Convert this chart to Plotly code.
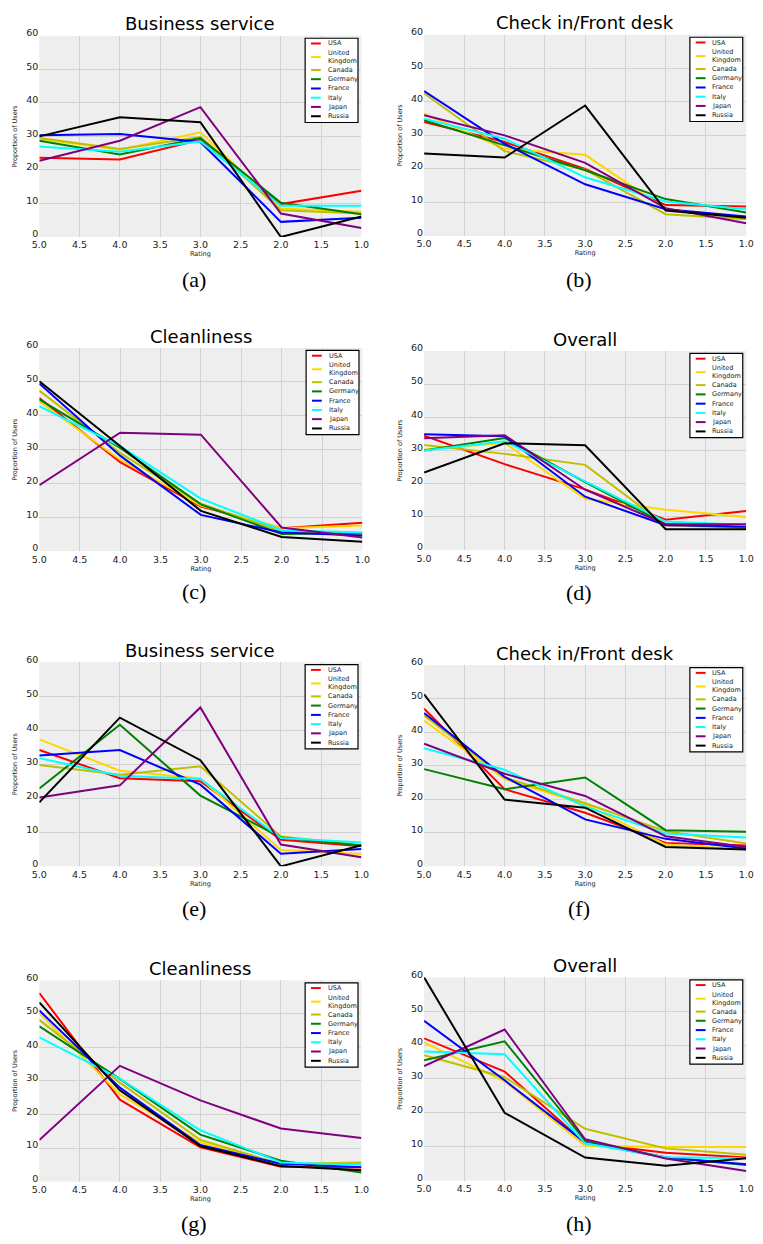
import plotly.graph_objects as go

# ---------------------------------------------------------------- data
ratings = [5, 4, 3, 2, 1]
countries = ["USA", "United Kingdom", "Canada", "Germany", "France", "Italy", "Japan", "Russia"]
legend_labels = ["USA", "United<br>Kingdom", "Canada", "Germany", "France", "Italy", "Japan", "Russia"]
colors = ["#ff0000", "#ffd700", "#bfbf00", "#008000", "#0000ff", "#00ffff", "#800080", "#000000"]

panel_titles = ["Business service", "Check in/Front desk", "Cleanliness", "Overall",
                "Business service", "Check in/Front desk", "Cleanliness", "Overall"]
panel_captions = ["(a)", "(b)", "(c)", "(d)", "(e)", "(f)", "(g)", "(h)"]

# one row per country (same order as `countries`), one column per rating 5..1
business_a = [
    [23.6, 23.1, 29.0, 9.8, 13.8],
    [29.2, 26.0, 31.2, 8.5, 7.5],
    [29.5, 26.2, 29.8, 8.0, 7.0],
    [28.7, 24.6, 29.5, 10.2, 6.8],
    [30.3, 30.7, 28.3, 4.5, 5.7],
    [27.0, 25.4, 28.5, 9.3, 9.3],
    [22.7, 28.7, 38.7, 7.0, 2.7],
    [30.0, 35.7, 34.2, 0.0, 6.1],
]
checkin_b = [
    [34.0, 28.0, 20.0, 9.2, 8.8],
    [36.5, 26.0, 24.2, 8.0, 5.5],
    [42.5, 25.3, 19.8, 6.5, 5.0],
    [34.5, 27.0, 19.6, 11.0, 7.0],
    [43.2, 27.5, 15.4, 8.0, 5.8],
    [35.0, 29.0, 17.5, 10.3, 8.0],
    [36.0, 30.0, 21.8, 8.3, 3.8],
    [24.6, 23.4, 38.9, 7.6, 5.4],
]
cleanliness_c = [
    [45.2, 26.3, 13.2, 6.8, 8.4],
    [44.2, 27.0, 13.5, 6.8, 7.6],
    [47.4, 29.0, 14.0, 5.8, 5.0],
    [44.8, 30.5, 13.8, 5.1, 5.4],
    [49.5, 28.2, 10.7, 5.5, 4.6],
    [42.8, 31.0, 15.5, 6.2, 5.5],
    [19.5, 35.0, 34.4, 7.0, 4.0],
    [50.2, 31.0, 11.9, 4.2, 2.8],
]
overall_d = [
    [34.5, 25.9, 18.3, 9.2, 11.8],
    [30.3, 32.3, 15.5, 12.2, 10.0],
    [31.7, 29.0, 25.7, 7.5, 6.7],
    [30.0, 33.8, 20.5, 7.8, 6.8],
    [34.9, 34.3, 16.1, 7.5, 7.2],
    [30.0, 32.8, 20.7, 8.6, 7.6],
    [33.7, 34.6, 18.2, 7.8, 7.8],
    [23.4, 32.2, 31.6, 6.3, 6.3],
]
business_e = [
    [34.2, 25.9, 25.0, 7.8, 5.9],
    [37.3, 28.1, 25.8, 4.8, 3.6],
    [29.8, 26.9, 29.4, 8.8, 6.2],
    [22.9, 41.6, 20.8, 8.5, 6.1],
    [32.6, 34.2, 24.0, 3.7, 5.1],
    [31.8, 26.6, 25.7, 8.3, 7.0],
    [20.2, 23.8, 46.7, 6.4, 2.7],
    [18.8, 43.7, 31.2, 0.0, 6.2],
]
checkin_f = [
    [47.0, 23.0, 16.0, 7.0, 6.2],
    [43.5, 26.0, 18.5, 6.5, 5.0],
    [45.0, 26.5, 18.8, 10.5, 6.8],
    [29.0, 23.0, 26.5, 10.8, 10.3],
    [45.7, 26.7, 14.0, 8.2, 5.3],
    [35.2, 28.8, 17.8, 9.8, 8.6],
    [36.6, 27.6, 21.0, 9.0, 5.8],
    [51.3, 19.9, 17.5, 5.8, 5.0],
]
cleanliness_g = [
    [56.2, 24.4, 10.2, 4.4, 4.2],
    [50.2, 26.0, 11.7, 5.0, 5.8],
    [48.2, 29.5, 12.4, 5.2, 5.5],
    [46.3, 30.6, 14.0, 6.2, 2.7],
    [51.0, 28.0, 10.9, 5.3, 4.3],
    [43.0, 30.7, 15.3, 5.7, 5.0],
    [12.4, 34.5, 24.2, 15.8, 13.0],
    [53.4, 27.2, 10.6, 4.6, 3.4],
]
overall_h = [
    [42.0, 32.2, 11.0, 8.2, 6.8],
    [40.8, 29.3, 10.3, 9.9, 9.9],
    [37.0, 30.5, 15.3, 9.5, 7.6],
    [35.5, 41.1, 11.8, 6.8, 4.6],
    [47.2, 29.6, 11.2, 6.8, 4.8],
    [38.1, 37.3, 11.0, 6.9, 6.6],
    [33.8, 44.6, 12.2, 6.5, 2.8],
    [60.0, 20.0, 6.8, 4.4, 6.6],
]
panel_values = [business_a, checkin_b, cleanliness_c, overall_d,
                business_e, checkin_f, cleanliness_g, overall_h]

# ---------------------------------------------------------------- layout
W, H = 763, 1244

# plot-area boxes in pixels: (left, top, right, bottom)
boxes = [
    (32, 27, 361, 230), (425, 26, 754, 229),
    (32, 342, 362, 547), (425, 345, 754, 546),
    (32, 659, 361, 865), (425, 662, 754, 865),
    (32, 980, 361, 1183), (425, 977, 754, 1182),
]
caption_pos = [(190, 273), (583, 273), (190, 588), (583, 589),
               (190, 908), (583, 908), (190, 1225), (583, 1225)]


def fx(px):
    return px / W


def fy(py):
    return 1 - py / H


SANS = "DejaVu Sans"
TEXT = "#222222"
fig = go.Figure()
annotations = []
shapes = []

for i, values in enumerate(panel_values):
    n = "" if i == 0 else str(i + 1)
    xa, ya = "x" + n, "y" + n
    left, top, right, bottom = boxes[i]

    for c, series in enumerate(values):
        fig.add_trace(go.Scatter(
            x=ratings, y=series, mode="lines", name=countries[c],
            line=dict(color=colors[c], width=2),
            xaxis=xa, yaxis=ya, showlegend=False,
        ))

    common = dict(showgrid=True, gridcolor="#d2d2d2", gridwidth=1, zeroline=False,
                  showline=False, ticks="", tickfont=dict(family=SANS, size=9.5, color=TEXT))
    fig.update_layout({
        "xaxis" + n: dict(domain=[fx(left), fx(right)], anchor=ya, range=[5, 1],
                          tickvals=[5, 4.5, 4, 3.5, 3, 2.5, 2, 1.5, 1], tickformat=".1f",
                          ticklabelstandoff=1,
                          title=dict(text="Rating", font=dict(family=SANS, size=6.5, color=TEXT),
                                     standoff=0),
                          **common),
        "yaxis" + n: dict(domain=[fy(bottom), fy(top)], anchor=xa, range=[0, 60],
                          tickvals=[0, 10, 20, 30, 40, 50, 60], ticklabelshift=-3,
                          title=dict(text="Proportion of Users",
                                     font=dict(family=SANS, size=6.5, color=TEXT), standoff=7),
                          **common),
    })

    # panel title
    annotations.append(dict(text=panel_titles[i], x=fx((left + right) / 2), y=fy(top - 12),
                            xref="paper", yref="paper", xanchor="center", yanchor="middle",
                            showarrow=False, font=dict(family=SANS, size=18, color="black")))
    # sub-figure caption
    cx, cy = caption_pos[i]
    annotations.append(dict(text=panel_captions[i], x=fx(cx), y=fy(cy), xref="paper", yref="paper",
                            xanchor="center", yanchor="middle", showarrow=False,
                            font=dict(family="Liberation Serif", size=22, color="black")))

    # legend box in the upper-right corner
    bx1 = right - 3.5
    bx0 = bx1 - 54
    by0 = top + 2.5
    by1 = by0 + 85
    shapes.append(dict(type="rect", xref="paper", yref="paper",
                       x0=fx(bx0), x1=fx(bx1), y0=fy(by0), y1=fy(by1),
                       line=dict(color="black", width=1.2), fillcolor="white", layer="above"))
    entry_offsets = [5.3, 19.0, 32.0, 41.3, 50.7, 60.0, 69.3, 78.7]
    for c, off in enumerate(entry_offsets):
        ey = by0 + off
        shapes.append(dict(type="line", xref="paper", yref="paper",
                           x0=fx(bx0 + 6), x1=fx(bx0 + 16), y0=fy(ey), y1=fy(ey),
                           line=dict(color=colors[c], width=2), layer="above"))
        annotations.append(dict(text=legend_labels[c], x=fx(bx0 + 21), y=fy(ey),
                                xref="paper", yref="paper", xanchor="left", yanchor="middle",
                                showarrow=False, align="left",
                                font=dict(family=SANS, size=6.5, color=TEXT)))

fig.update_layout(
    width=W, height=H,
    margin=dict(l=0, r=0, t=0, b=0),
    paper_bgcolor="white",
    plot_bgcolor="#eeeeee",
    showlegend=False,
    annotations=annotations,
    shapes=shapes,
)

fig.write_html("out.html")
